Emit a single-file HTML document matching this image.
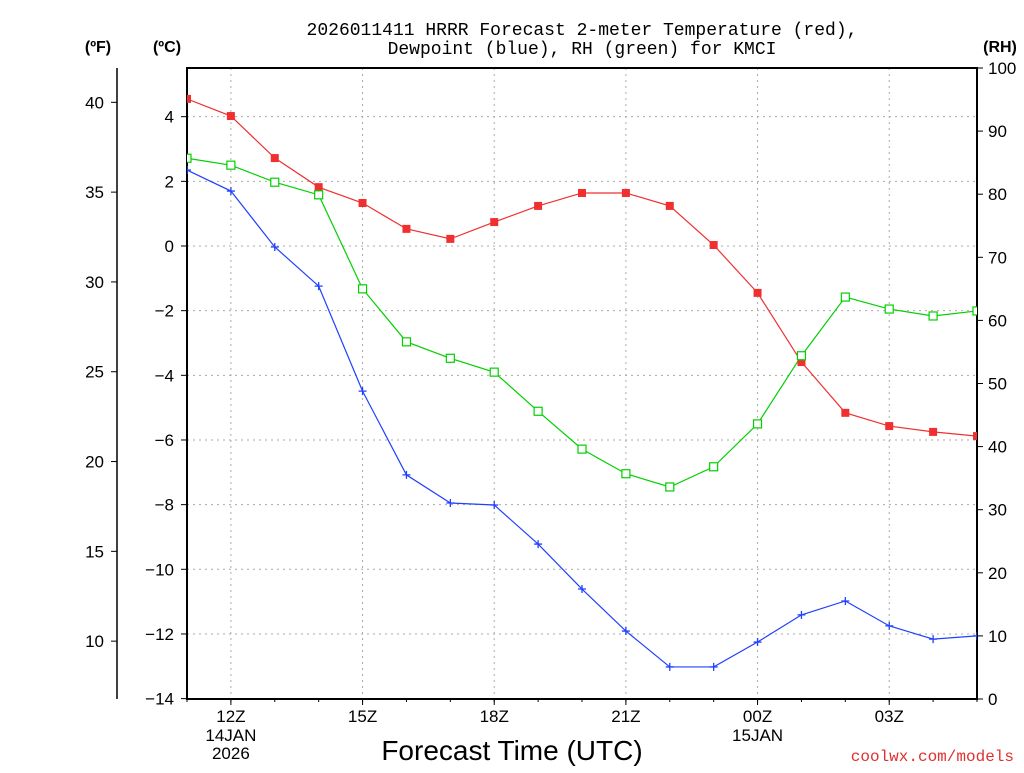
<!DOCTYPE html>
<html><head><meta charset="utf-8"><style>
body{margin:0;background:#fff;width:1024px;height:768px;overflow:hidden}
svg text{font-family:"Liberation Sans","DejaVu Sans",sans-serif}
</style></head><body>
<svg id="chart" width="1024" height="768" xmlns="http://www.w3.org/2000/svg">
<defs><clipPath id="plotclip"><rect x="187" y="68" width="790" height="631"/></clipPath></defs>
<g id="static">
<text x="582" y="35" font-size="18" text-anchor="middle" style="font-family:'Liberation Mono',monospace">2026011411 HRRR Forecast 2-meter Temperature (red),</text>
<text x="582" y="54" font-size="18" text-anchor="middle" style="font-family:'Liberation Mono',monospace">Dewpoint (blue), RH (green) for KMCI</text>
<text x="98" y="52" font-size="16" font-weight="bold" text-anchor="middle">(ºF)</text>
<text x="167" y="52" font-size="16" font-weight="bold" text-anchor="middle">(ºC)</text>
<text x="1000" y="52" font-size="16" font-weight="bold" text-anchor="middle">(RH)</text>
<text x="512" y="760" font-size="28" text-anchor="middle">Forecast Time (UTC)</text>
<text x="1014" y="761" font-size="16" fill="#e03030" text-anchor="end" style="font-family:'Liberation Mono',monospace">coolwx.com/models</text>
</g>
<g id="grid"></g><g id="axes"></g><g id="series" clip-path="url(#plotclip)"></g>
</svg>
<script>
const hours=[11,12,13,14,15,16,17,18,19,20,21,22,23,24,25,26,27,28,29];
const tempC=[4.55,4.02,2.72,1.82,1.33,0.53,0.22,0.74,1.24,1.64,1.64,1.24,0.03,-1.45,-3.59,-5.16,-5.57,-5.75,-5.88];
const dewC=[2.35,1.70,-0.03,-1.24,-4.49,-7.08,-7.95,-8.01,-9.22,-10.61,-11.91,-13.02,-13.02,-12.25,-11.41,-10.98,-11.75,-12.16,-12.06];
const rh=[85.7,84.6,81.9,79.9,65.0,56.6,54.0,51.8,45.6,39.6,35.7,33.6,36.8,43.6,54.4,63.7,61.8,60.7,61.5];
const cTicks=[4,2,0,-2,-4,-6,-8,-10,-12,-14];
const fTicks=[40,35,30,25,20,15,10];
const rhTicks=[0,10,20,30,40,50,60,70,80,90,100];
const xTickHours=[12,15,18,21,24,27];
const xTickLabels=["12Z","15Z","18Z","21Z","00Z","03Z"];
const xSubLabels={12:["14JAN","2026"],24:["15JAN"]};

const X0=187,X1=977,Y0=68,Y1=699;
const xs=h=>X0+(h-11)*(X1-X0)/18;
const yc=c=>246-c*32.33;
const yf=f=>yc((f-32)/1.8);
const yr=r=>Y1-r*(Y1-Y0)/100;
const NS="http://www.w3.org/2000/svg";
function mk(p,tag,at,txt){const e=document.createElementNS(NS,tag);for(const k in at)e.setAttribute(k,at[k]);if(txt!==undefined)e.textContent=txt;p.appendChild(e);return e;}
const grid=document.getElementById('grid'),axes=document.getElementById('axes'),ser=document.getElementById('series');
cTicks.forEach(c=>{const y=yc(c);
 if(c>-14){const g=mk(grid,'line',{x1:X0,x2:X1,y1:y,y2:y,stroke:'#aaa','stroke-dasharray':'2,4'});
 
 }
 mk(axes,'line',{x1:X0-6,x2:X0,y1:y,y2:y,stroke:'#000'});
 const t=mk(axes,'text',{x:X0-13,y:y+6,'font-size':17,'text-anchor':'end'},c<0?'−'+(-c):String(c));
 
 });
fTicks.forEach(f=>{const y=yf(f);
 mk(axes,'line',{x1:111,x2:117,y1:y,y2:y,stroke:'#000'});
 const t=mk(axes,'text',{x:104,y:y+6,'font-size':17,'text-anchor':'end'},String(f));
 
 });
rhTicks.forEach(r=>{const y=yr(r);
 mk(axes,'line',{x1:X1,x2:X1+6,y1:y,y2:y,stroke:'#000'});
 const t=mk(axes,'text',{x:988,y:y+6,'font-size':17},String(r));
 
 });
xTickHours.forEach((h,i)=>{const x=xs(h);
 const g=mk(grid,'line',{x1:x,x2:x,y1:Y0,y2:Y1,stroke:'#aaa','stroke-dasharray':'2,4'});
 
 
 mk(axes,'line',{x1:x,x2:x,y1:Y1,y2:Y1+6,stroke:'#000'});
 const t=mk(axes,'text',{x:x,y:722,'font-size':17,'text-anchor':'middle'},xTickLabels[i]);
 
 
 (xSubLabels[h]||[]).forEach((s,j)=>{const u=mk(axes,'text',{x:x,y:741+j*18,'font-size':17,'text-anchor':'middle'},s);
 
 });});
hours.forEach(h=>{const x=xs(h);mk(axes,'line',{x1:x,x2:x,y1:Y1,y2:Y1+3,stroke:'#000'});});
mk(axes,'rect',{x:X0,y:Y0,width:X1-X0,height:Y1-Y0,fill:'none',stroke:'#000','stroke-width':2});
mk(axes,'line',{x1:117,x2:117,y1:Y0,y2:Y1,stroke:'#000','stroke-width':1.5});

function line(vals,fy,col,name){
 const pts=hours.map((h,i)=>xs(h)+','+fy(vals[i])).join(' ');
 const p=mk(ser,'polyline',{points:pts,fill:'none',stroke:col,'stroke-width':1.2});
 
 
}
line(rh,yr,'#00d000','rh');line(tempC,yc,'#f03030','temperature');line(dewC,yc,'#2040ff','dewpoint');
hours.forEach((h,i)=>{const x=xs(h);
 const a=mk(ser,'rect',{x:x-4,y:yc(tempC[i])-4,width:8,height:8,fill:'#f03030'});
 
 
 const b=mk(ser,'rect',{x:x-4,y:yr(rh[i])-4,width:8,height:8,fill:'#fff',stroke:'#00d000','stroke-width':1.2});
 
 
 const y=yc(dewC[i]);
 const c=mk(ser,'path',{d:`M${x-4},${y}H${x+4}M${x},${y-4}V${y+4}`,stroke:'#2040ff','stroke-width':1.3});
 
 });
</script>
</body></html>
